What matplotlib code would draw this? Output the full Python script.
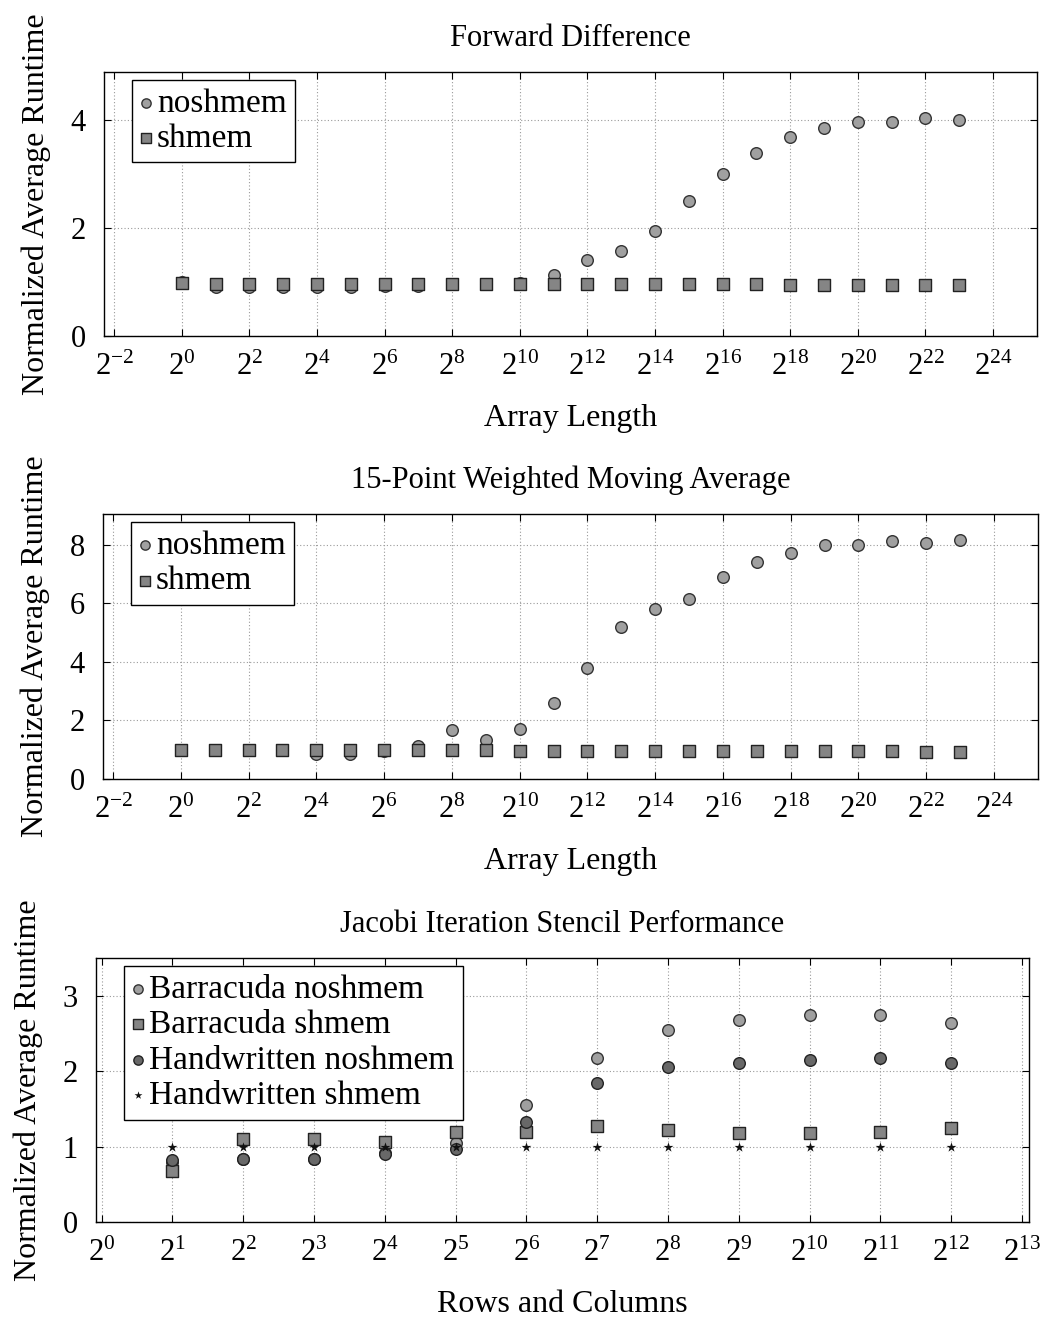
import numpy as np
import matplotlib.pyplot as plt

plt.rcParams['font.family'] = ['Liberation Serif', 'DejaVu Serif']
plt.rcParams['mathtext.fontset'] = 'custom'
plt.rcParams['mathtext.rm'] = 'Liberation Serif'
plt.rcParams['mathtext.it'] = 'Liberation Serif:italic'

# data
fd_length = 2.0 ** np.arange(0, 24)
fd_noshmem = [1.0, 0.9, 0.9, 0.9, 0.9, 0.9, 0.92, 0.93, 0.96, 0.97, 0.99, 1.13,
              1.41, 1.58, 1.95, 2.5, 3.0, 3.4, 3.7, 3.85, 3.97, 3.97, 4.04, 4.0]
fd_shmem = [0.99, 0.97, 0.97, 0.97, 0.97, 0.97, 0.97, 0.97, 0.97, 0.97, 0.97, 0.97,
            0.96, 0.96, 0.96, 0.96, 0.96, 0.96, 0.95, 0.95, 0.95, 0.95, 0.95, 0.95]

wma_length = 2.0 ** np.arange(0, 24)
wma_noshmem = [1.0, 1.0, 1.0, 1.0, 0.85, 0.85, 0.95, 1.12, 1.66, 1.32, 1.71, 2.6,
               3.78, 5.2, 5.82, 6.16, 6.9, 7.41, 7.73, 7.98, 8.0, 8.12, 8.06, 8.15]
wma_shmem = [1.0, 1.0, 1.0, 1.0, 0.98, 0.98, 0.98, 0.98, 0.98, 0.98, 0.97, 0.97,
             0.96, 0.96, 0.96, 0.95, 0.95, 0.95, 0.95, 0.94, 0.94, 0.94, 0.93, 0.93]

jac_size = 2.0 ** np.arange(1, 13)
jac_barracuda_noshmem = [0.8, 0.84, 0.84, 0.92, 1.05, 1.55, 2.17, 2.55, 2.68, 2.74, 2.75, 2.64]
jac_barracuda_shmem = [0.67, 1.1, 1.1, 1.06, 1.2, 1.19, 1.27, 1.22, 1.18, 1.18, 1.19, 1.24]
jac_hand_noshmem = [0.82, 0.84, 0.84, 0.9, 0.97, 1.33, 1.84, 2.06, 2.11, 2.15, 2.17, 2.11]
jac_hand_shmem = [1.0, 0.99, 0.99, 0.99, 0.99, 0.99, 0.99, 0.99, 0.99, 0.99, 0.99, 0.99]

light = dict(marker='o', s=70, facecolor='#a0a0a0', edgecolor='#333333', linewidths=1.0, zorder=3)
square = dict(marker='s', s=70, facecolor='#858585', edgecolor='#222222', linewidths=1.0, zorder=3)
dark = dict(marker='o', s=70, facecolor='#686868', edgecolor='#222222', linewidths=1.0, zorder=3)
star = dict(marker='*', s=55, color='#111111', linewidths=0, zorder=4)


def style_axes(ax, exps, yticks, xlim_exp, ylim, title, xlabel):
    ax.set_xscale('log', base=2)
    ax.set_xlim(2.0 ** xlim_exp[0], 2.0 ** xlim_exp[1])
    ax.set_ylim(*ylim)
    ax.set_xticks([2.0 ** e for e in exps])
    ax.set_xticklabels(['$2^{%d}$' % e for e in exps])
    ax.minorticks_off()
    ax.set_yticks(yticks)
    ax.tick_params(direction='in', top=True, right=True, labelsize=22, length=5)
    ax.tick_params(axis='x', pad=12)
    ax.tick_params(axis='y', pad=13)
    ax.grid(True, color='#9a9a9a', linestyle=(0, (1, 2)), linewidth=0.8)
    ax.set_axisbelow(True)
    ax.set_title(title, fontsize=22, pad=19)
    ax.set_xlabel(xlabel, fontsize=23, labelpad=16)
    ax.set_ylabel('Normalized Average Runtime', fontsize=23, labelpad=14)
    for sp in ax.spines.values():
        sp.set_linewidth(1.0)


fig = plt.figure(figsize=(10.42, 13.17), dpi=100)

ax1 = fig.add_axes([0.0998, 0.7449, 0.8954, 0.2005])
ax1.scatter(fd_length, fd_noshmem, label='noshmem', **light)
ax1.scatter(fd_length, fd_shmem, label='shmem', **square)
style_axes(ax1, range(-2, 25, 2), [0, 2, 4], (-2.3, 25.3), (0, 4.9),
           'Forward Difference', 'Array Length')

ax2 = fig.add_axes([0.0988, 0.4085, 0.8973, 0.2012])
ax2.scatter(wma_length, wma_noshmem, label='noshmem', **light)
ax2.scatter(wma_length, wma_shmem, label='shmem', **square)
style_axes(ax2, range(-2, 25, 2), [0, 2, 4, 6, 8], (-2.3, 25.3), (0, 9.05),
           '15-Point Weighted Moving Average', 'Array Length')

ax3 = fig.add_axes([0.0921, 0.0721, 0.8954, 0.2005])
ax3.scatter(jac_size, jac_barracuda_noshmem, label='Barracuda noshmem', **light)
ax3.scatter(jac_size, jac_barracuda_shmem, label='Barracuda shmem', **square)
ax3.scatter(jac_size, jac_hand_noshmem, label='Handwritten noshmem', **dark)
ax3.scatter(jac_size, jac_hand_shmem, label='Handwritten shmem', **star)
style_axes(ax3, range(0, 14), [0, 1, 2, 3], (-0.08, 13.1), (0, 3.5),
           'Jacobi Iteration Stencil Performance', 'Rows and Columns')

for ax in (ax1, ax2, ax3):
    leg = ax.legend(loc='upper left', bbox_to_anchor=(0.03, 0.97), borderaxespad=0,
                    fontsize=24, frameon=True, fancybox=False,
                    edgecolor='black', framealpha=1, handlelength=0.35,
                    handletextpad=0.15, borderpad=0.25, labelspacing=0.15,
                    markerscale=0.8)
    leg.get_frame().set_linewidth(1.0)

fig.savefig('out.png', dpi=100)
